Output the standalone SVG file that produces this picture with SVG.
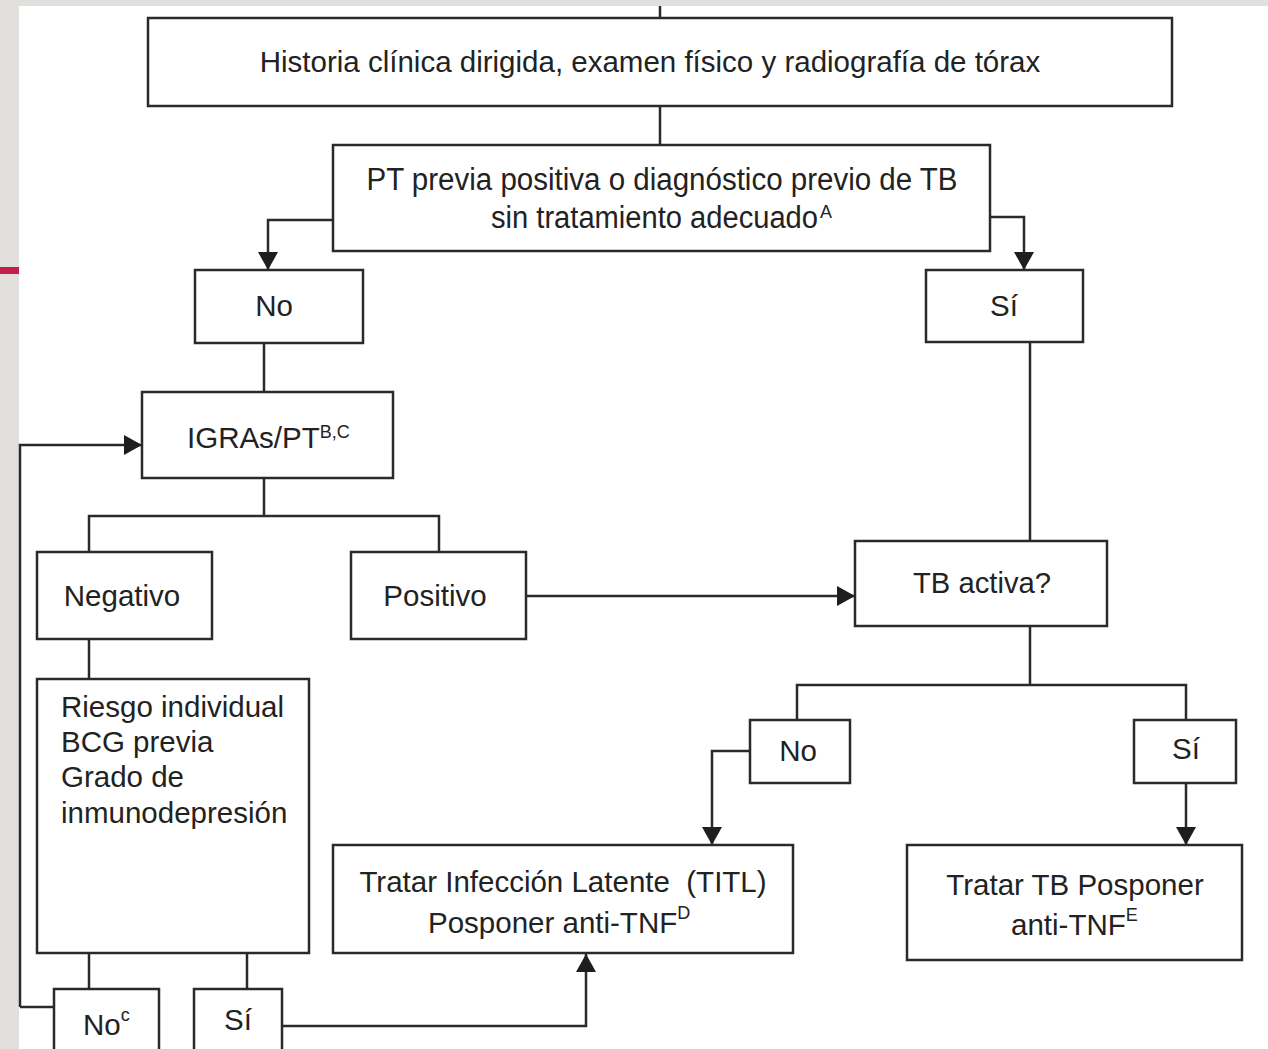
<svg xmlns="http://www.w3.org/2000/svg" width="1268" height="1049" viewBox="0 0 1268 1049">
<defs>
<marker id="ah" viewBox="0 0 18 20" refX="18" refY="10" markerWidth="18" markerHeight="20" markerUnits="userSpaceOnUse" orient="auto">
<path d="M0,0 L18,10 L0,20 Z" fill="#1e1e1e"/>
</marker>
<style>
.box{fill:#fff;stroke:#2a2a2a;stroke-width:2.5}
.ln{fill:none;stroke:#2a2a2a;stroke-width:2.5}
.t{font-family:"Liberation Sans",Arial,Helvetica,sans-serif;font-size:29.5px;fill:#222}
.m{text-anchor:middle}
.sup{font-size:18px}
</style>
</defs>
<rect x="0" y="0" width="1268" height="1049" fill="#fff"/>
<rect x="0" y="0" width="1268" height="6" fill="#e2e0dc"/>
<rect x="0" y="0" width="19" height="1049" fill="#e2e0dc"/>
<rect x="0" y="267" width="19" height="7" fill="#c41e4a"/>

<g id="connectors">
<path class="ln" d="M660,6 V18"/>
<path class="ln" d="M660,106 V145"/>
<path class="ln" d="M333,220 H268 V270" marker-end="url(#ah)"/>
<path class="ln" d="M990,217 H1024 V270" marker-end="url(#ah)"/>
<path class="ln" d="M264,343 V392"/>
<path class="ln" d="M20,1007 V445 H142" marker-end="url(#ah)"/>
<path class="ln" d="M20,1007 H54"/>
<path class="ln" d="M264,478 V516 M89,552 V516 H439 V552"/>
<path class="ln" d="M526,596 H855" marker-end="url(#ah)"/>
<path class="ln" d="M1030,342 V541"/>
<path class="ln" d="M1030,626 V685 M797,720 V685 H1186 V720"/>
<path class="ln" d="M750,751 H712 V845" marker-end="url(#ah)"/>
<path class="ln" d="M1186,783 V845" marker-end="url(#ah)"/>
<path class="ln" d="M89,639 V679"/>
<path class="ln" d="M89,953 V989 M247,953 V989"/>
<path class="ln" d="M282,1026 H586 V954" marker-end="url(#ah)"/>
</g>

<g id="n-historia">
<rect class="box" x="148" y="18" width="1024" height="88"/>
<text class="t m" x="650" y="72">Historia clínica dirigida, examen físico y radiografía de tórax</text>
</g>
<g id="n-pt">
<rect class="box" x="333" y="145" width="657" height="106"/>
<text class="t m" x="662" y="190" style="font-size:31px" textLength="591" lengthAdjust="spacingAndGlyphs">PT previa positiva o diagnóstico previo de TB</text>
<text class="t" x="491" y="228" style="font-size:31px" textLength="327" lengthAdjust="spacingAndGlyphs">sin tratamiento adecuado</text>
<text class="t sup" x="820" y="218">A</text>
</g>
<g id="n-no1">
<rect class="box" x="195" y="270" width="168" height="73"/>
<text class="t m" x="274" y="316">No</text>
</g>
<g id="n-si1">
<rect class="box" x="926" y="270" width="157" height="72"/>
<text class="t m" x="1004" y="316">Sí</text>
</g>
<g id="n-igras">
<rect class="box" x="142" y="392" width="251" height="86"/>
<text class="t" x="187" y="448">IGRAs/PT<tspan class="sup" dy="-10">B,C</tspan></text>
</g>
<g id="n-negativo">
<rect class="box" x="37" y="552" width="175" height="87"/>
<text class="t m" x="122" y="606">Negativo</text>
</g>
<g id="n-positivo">
<rect class="box" x="351" y="552" width="175" height="87"/>
<text class="t m" x="435" y="606">Positivo</text>
</g>
<g id="n-tbactiva">
<rect class="box" x="855" y="541" width="252" height="85"/>
<text class="t m" x="982" y="593" style="font-size:30px" textLength="138" lengthAdjust="spacingAndGlyphs">TB activa?</text>
</g>
<g id="n-riesgo">
<rect class="box" x="37" y="679" width="272" height="274"/>
<text class="t" x="61" y="717">Riesgo individual</text>
<text class="t" x="61" y="752">BCG previa</text>
<text class="t" x="61" y="787">Grado de</text>
<text class="t" x="61" y="823">inmunodepresión</text>
</g>
<g id="n-no2">
<rect class="box" x="750" y="720" width="100" height="63"/>
<text class="t m" x="798" y="761">No</text>
</g>
<g id="n-si2">
<rect class="box" x="1134" y="720" width="102" height="63"/>
<text class="t m" x="1186" y="759">Sí</text>
</g>
<g id="n-titl">
<rect class="box" x="333" y="845" width="460" height="108"/>
<text class="t m" x="563" y="892" xml:space="preserve">Tratar Infección Latente  (TITL)</text>
<text class="t" x="428" y="933">Posponer anti-TNF<tspan class="sup" dy="-14">D</tspan></text>
</g>
<g id="n-tratartb">
<rect class="box" x="907" y="845" width="335" height="115"/>
<text class="t m" x="1075" y="895">Tratar TB Posponer</text>
<text class="t" x="1011" y="935">anti-TNF<tspan class="sup" dy="-14">E</tspan></text>
</g>
<g id="n-noc">
<rect class="box" x="54" y="989" width="105" height="70"/>
<text class="t" x="83" y="1035">No<tspan class="sup" dy="-14">c</tspan></text>
</g>
<g id="n-si3">
<rect class="box" x="194" y="989" width="88" height="70"/>
<text class="t m" x="238" y="1030">Sí</text>
</g>
</svg>
